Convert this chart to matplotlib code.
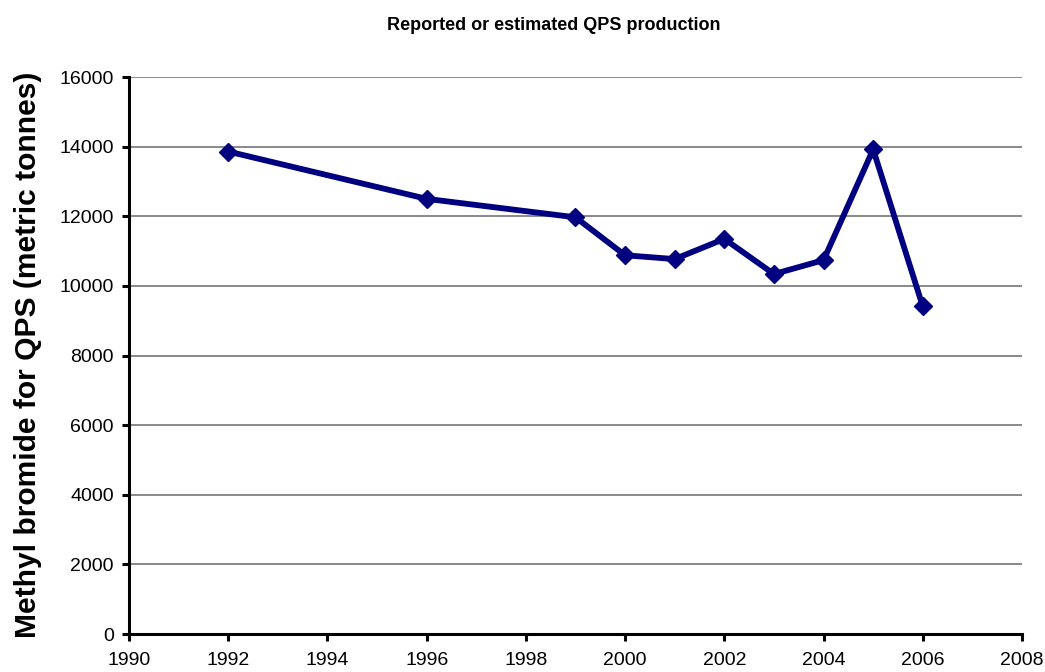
import matplotlib
matplotlib.use("Agg")
import matplotlib.pyplot as plt

plt.rcParams['font.family'] = ['Liberation Sans', 'DejaVu Sans']

# QPS production data
years = [1992, 1996, 1999, 2000, 2001, 2002, 2003, 2004, 2005, 2006]
tonnes = [13860, 12500, 11970, 10880, 10770, 11350, 10340, 10740, 13920, 9410]

fig = plt.figure(figsize=(10.45, 6.72), dpi=100)
ax = fig.add_axes([0.1234, 0.0565, 0.8546, 0.8289])

ax.plot(years, tonnes, color='#000080', linewidth=4.2, marker='D', markersize=9,
        clip_on=False, zorder=3)

ax.set_xlim(1990, 2008)
ax.set_ylim(0, 16000)
ax.set_xticks(range(1990, 2009, 2))
ax.set_yticks(range(0, 16001, 2000))
ax.yaxis.grid(True, color='#808080', linewidth=1.3)
ax.set_axisbelow(True)

for s in ['top', 'right']:
    ax.spines[s].set_visible(False)
for s in ['left', 'bottom']:
    ax.spines[s].set_linewidth(2.2)
ax.tick_params(direction='out', length=5, width=2.2, labelsize=14)
ax.tick_params(axis='x', pad=8)
ax.tick_params(axis='y', pad=6)

fig.text(28 / 1045, 1 - 355 / 672, 'Methyl bromide for QPS (metric tonnes)',
         rotation=90, ha='center', va='center', fontsize=21.6, fontweight='bold')
fig.text(554 / 1045, 1 - 26 / 672, 'Reported or estimated QPS production',
         ha='center', va='center', fontsize=13, fontweight='bold')

fig.savefig('out.png', dpi=100)
